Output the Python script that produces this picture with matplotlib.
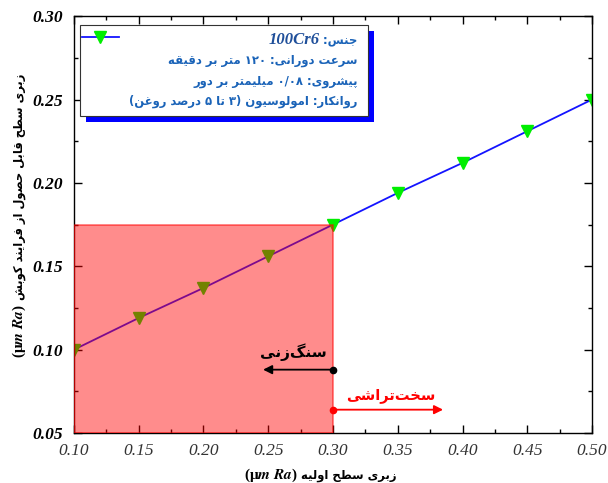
import matplotlib
matplotlib.use("Agg")
import matplotlib.pyplot as plt
from matplotlib.patches import Rectangle
from matplotlib.lines import Line2D
from matplotlib.ticker import MultipleLocator, FormatStrFormatter

# ---------------- data ----------------
initial_roughness = [0.10, 0.15, 0.20, 0.25, 0.30, 0.35, 0.40, 0.45, 0.50]
achievable_roughness = [0.100, 0.119, 0.137, 0.156, 0.175, 0.194, 0.212, 0.231, 0.250]
x_ticks = [0.10, 0.15, 0.20, 0.25, 0.30, 0.35, 0.40, 0.45, 0.50]
y_ticks = [0.05, 0.10, 0.15, 0.20, 0.25, 0.30]
grinding_region_x = [0.10, 0.30]
grinding_region_y = [0.05, 0.175]
grinding_arrow = [0.30, 0.246, 0.088]      # start x, tip x, y
turning_arrow = [0.30, 0.385, 0.064]       # start x, tip x, y

legend_lines = [
    "جنس: ",
    "سرعت دورانی: ۱۲۰ متر بر دقیقه",
    "پیشروی: ۰/۰۸ میلیمتر بر دور",
    "روانکار: امولوسیون (۳ تا ۵ درصد روغن)",
]
material = "100Cr6"
xlabel_fa = "زبری سطح اولیه "
ylabel_fa = "زبری سطح قابل حصول از فرایند کوبش "
unit_label = r"(μ$\mathbfit{m\ Ra}$)"
grinding_text = "سنگ\u200cزنی"
turning_text = "سخت\u200cتراشی"

# ------------- simple Persian shaping + bidi -------------
_F = {
    '\u0627': (0xFE8D, 0xFE8E, None, None),
    '\u0628': (0xFE8F, 0xFE90, 0xFE91, 0xFE92),
    '\u062A': (0xFE95, 0xFE96, 0xFE97, 0xFE98),
    '\u062C': (0xFE9D, 0xFE9E, 0xFE9F, 0xFEA0),
    '\u062D': (0xFEA1, 0xFEA2, 0xFEA3, 0xFEA4),
    '\u062E': (0xFEA5, 0xFEA6, 0xFEA7, 0xFEA8),
    '\u062F': (0xFEA9, 0xFEAA, None, None),
    '\u0631': (0xFEAD, 0xFEAE, None, None),
    '\u0632': (0xFEAF, 0xFEB0, None, None),
    '\u0633': (0xFEB1, 0xFEB2, 0xFEB3, 0xFEB4),
    '\u0634': (0xFEB5, 0xFEB6, 0xFEB7, 0xFEB8),
    '\u0635': (0xFEB9, 0xFEBA, 0xFEBB, 0xFEBC),
    '\u0637': (0xFEC1, 0xFEC2, 0xFEC3, 0xFEC4),
    '\u0639': (0xFEC9, 0xFECA, 0xFECB, 0xFECC),
    '\u063A': (0xFECD, 0xFECE, 0xFECF, 0xFED0),
    '\u0641': (0xFED1, 0xFED2, 0xFED3, 0xFED4),
    '\u0642': (0xFED5, 0xFED6, 0xFED7, 0xFED8),
    '\u0644': (0xFEDD, 0xFEDE, 0xFEDF, 0xFEE0),
    '\u0645': (0xFEE1, 0xFEE2, 0xFEE3, 0xFEE4),
    '\u0646': (0xFEE5, 0xFEE6, 0xFEE7, 0xFEE8),
    '\u0647': (0xFEE9, 0xFEEA, 0xFEEB, 0xFEEC),
    '\u0648': (0xFEED, 0xFEEE, None, None),
    '\u067E': (0xFB56, 0xFB57, 0xFB58, 0xFB59),
    '\u06A9': (0xFB8E, 0xFB8F, 0xFB90, 0xFB91),
    '\u06AF': (0xFB92, 0xFB93, 0xFB94, 0xFB95),
    '\u06CC': (0xFBFC, 0xFBFD, 0xFBFE, 0xFBFF),
}


def shape(s):
    out = []
    for i, c in enumerate(s):
        if c not in _F:
            out.append(c)
            continue
        p = s[i - 1] if i > 0 else ''
        n = s[i + 1] if i + 1 < len(s) else ''
        jp = p in _F and _F[p][2] is not None
        jn = n in _F and _F[c][2] is not None
        iso, fin, ini, med = _F[c]
        if jp and jn:
            g = med
        elif jp:
            g = fin
        elif jn:
            g = ini
        else:
            g = iso
        out.append(chr(g))
    return ''.join(out).replace('\u200c', '')


def _is_ltr(ch):
    return (ch.isascii() and ch.isalnum()) or ch in '۰۱۲۳۴۵۶۷۸۹/.µμ'


_MIRROR = {'(': ')', ')': '('}


def visual(s):
    s = shape(s)
    kinds = [_is_ltr(c) for c in s]
    for i, c in enumerate(s):
        if c == ' ' and 0 < i < len(s) - 1 and kinds[i - 1] and kinds[i + 1]:
            kinds[i] = True
    runs = []
    for c, k in zip(s, kinds):
        if runs and runs[-1][0] == k:
            runs[-1][1].append(c)
        else:
            runs.append([k, [c]])
    out = ''
    for k, chars in reversed(runs):
        if k:
            out += ''.join(chars)
        else:
            out += ''.join(_MIRROR.get(c, c) for c in reversed(chars))
    return out


# ---------------- figure ----------------
plt.rcParams['mathtext.fontset'] = 'stix'
FA = 'DejaVu Sans'
SERIF = 'Liberation Serif'
LEG_BLUE = '#1a63b8'

fig = plt.figure(figsize=(6.08, 4.83), dpi=100)
ax = fig.add_axes([0.1217, 0.1035, 0.8520, 0.8630])

ax.plot(initial_roughness, achievable_roughness, color='#1414ff', lw=1.3,
        marker='v', ms=9, mfc='#00ee00', mec='#00ee00', zorder=2)

ax.add_patch(Rectangle((grinding_region_x[0], grinding_region_y[0]),
                       grinding_region_x[1] - grinding_region_x[0],
                       grinding_region_y[1] - grinding_region_y[0],
                       facecolor=(1, 0, 0, 0.45), edgecolor=(1, 0, 0, 0.55),
                       lw=1.2, zorder=3))

ax.set_xlim(0.10, 0.50)
ax.set_ylim(0.05, 0.30)
ax.set_xticks(x_ticks)
ax.set_yticks(y_ticks)
ax.xaxis.set_minor_locator(MultipleLocator(0.025))
ax.yaxis.set_minor_locator(MultipleLocator(0.025))
ax.xaxis.set_major_formatter(FormatStrFormatter('%.2f'))
ax.yaxis.set_major_formatter(FormatStrFormatter('%.2f'))
ax.tick_params(which='both', direction='in', top=True, right=True, width=1.0)
ax.tick_params(which='major', length=6)
ax.tick_params(which='minor', length=3)
ax.tick_params(axis='x', pad=7)
ax.tick_params(axis='y', pad=8)
for lab in ax.get_xticklabels():
    lab.set_fontfamily(SERIF)
    lab.set_fontstyle('italic')
    lab.set_fontsize(12.5)
    lab.set_color('#333333')
for lab in ax.get_yticklabels():
    lab.set_fontfamily(SERIF)
    lab.set_fontstyle('italic')
    lab.set_fontweight('bold')
    lab.set_fontsize(12.5)
for sp in ax.spines.values():
    sp.set_linewidth(1.0)

# axis labels (Persian part + unit part)
ax.set_xlabel(visual(xlabel_fa), fontfamily=FA, fontweight='bold', fontsize=8.4)
ax.xaxis.set_label_coords(0.527, -0.087)
ax.set_ylabel(visual(ylabel_fa), fontfamily=FA, fontweight='bold', fontsize=8.3)
ax.yaxis.set_label_coords(-0.093, 0.585)
ax.annotate(unit_label, xy=(0, 0.5), xycoords=ax.xaxis.label, ha='right', va='center',
            fontfamily=SERIF, fontweight='bold', fontsize=11)
ax.annotate(unit_label, xy=(0.5, 0), xycoords=ax.yaxis.label, ha='center', va='top',
            rotation=90, fontfamily=SERIF, fontweight='bold', fontsize=11)

# grinding / hard turning arrows
gx0, gx1, gy = grinding_arrow
ax.annotate('', xy=(gx1, gy), xytext=(gx0, gy),
            arrowprops=dict(arrowstyle='-|>', color='black', lw=1.3, mutation_scale=13,
                            shrinkA=0, shrinkB=0), zorder=6)
ax.plot([gx0], [gy], 'o', color='black', ms=4.5, zorder=7)
ax.text(gx0 - 0.005, gy + 0.005, visual(grinding_text), ha='right', va='bottom',
        fontfamily=FA, fontweight='bold', fontsize=11, color='black', zorder=7)

tx0, tx1, ty = turning_arrow
ax.annotate('', xy=(tx1, ty), xytext=(tx0, ty),
            arrowprops=dict(arrowstyle='-|>', color='red', lw=1.3, mutation_scale=13,
                            shrinkA=0, shrinkB=0), zorder=6)
ax.plot([tx0], [ty], 'o', color='red', ms=4.5, zorder=7)
ax.text(tx0 + 0.010, ty + 0.004, visual(turning_text), ha='left', va='bottom',
        fontfamily=FA, fontweight='bold', fontsize=10.5, color='red', zorder=7)

# legend box with blue shadow
bx0, bx1, by0, by1 = 0.0116, 0.567, 0.760, 0.978
ax.add_patch(Rectangle((bx0 + 0.012, by0 - 0.014), bx1 - bx0, by1 - by0,
                       transform=ax.transAxes, facecolor='#0000ff', edgecolor='none',
                       zorder=8, clip_on=False))
ax.add_patch(Rectangle((bx0, by0), bx1 - bx0, by1 - by0, transform=ax.transAxes,
                       facecolor='white', edgecolor='#333333', lw=0.8, zorder=9,
                       clip_on=False))
ax.add_line(Line2D([0.015, 0.087], [0.950, 0.950], transform=ax.transAxes, color='#1414ff',
                   lw=1.3, zorder=10))
ax.add_line(Line2D([0.051], [0.950], transform=ax.transAxes, marker='v', ms=9,
                   mfc='#00ee00', mec='#00ee00', lw=0, zorder=10))
line_y = [0.942, 0.894, 0.844, 0.796]
first = None
for txt, yy in zip(legend_lines, line_y):
    t = ax.text(0.548, yy, visual(txt), transform=ax.transAxes, ha='right', va='center',
                fontfamily=FA, fontweight='bold', fontsize=8.4, color=LEG_BLUE, zorder=10)
    if first is None:
        first = t
ax.annotate(material, xy=(0, 0.5), xycoords=first, ha='right', va='center',
            fontfamily=SERIF, fontweight='bold', fontstyle='italic', fontsize=12,
            color='#1f4f9a', zorder=10)

fig.savefig('out.png', dpi=100)
